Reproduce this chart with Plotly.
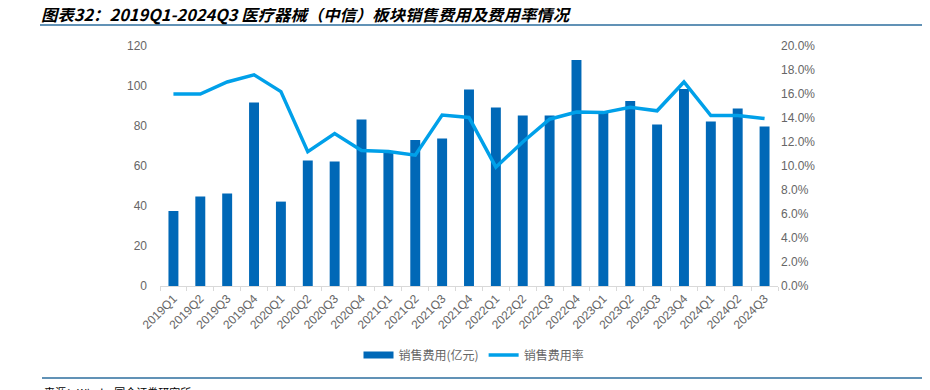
import plotly.graph_objects as go

categories = ["2019Q1","2019Q2","2019Q3","2019Q4","2020Q1","2020Q2","2020Q3","2020Q4",
              "2021Q1","2021Q2","2021Q3","2021Q4","2022Q1","2022Q2","2022Q3","2022Q4",
              "2023Q1","2023Q2","2023Q3","2023Q4","2024Q1","2024Q2","2024Q3"]
sales_expense = [37.5, 44.7, 46.3, 91.8, 42.2, 62.7, 62.2, 83.3,
                 66.5, 73.0, 73.7, 98.3, 89.3, 85.2, 85.2, 113.0,
                 87.5, 92.5, 80.8, 98.5, 82.2, 88.8, 79.7]
expense_rate = [16.0, 16.0, 17.0, 17.6, 16.2, 11.2, 12.7, 11.3,
                11.2, 10.9, 14.25, 14.05, 9.9, 12.0, 13.9, 14.5,
                14.45, 14.9, 14.6, 17.0, 14.2, 14.2, 13.95]
rate_frac = [v / 100 for v in expense_rate]

BAR = "#0068B7"
LINE = "#00A0E9"
GRAY = "#666666"
CJK = "Noto Sans CJK SC"
LAT = "Liberation Sans, Arial, " + CJK

fig = go.Figure()
fig.add_trace(go.Bar(x=categories, y=sales_expense, name="销售费用(亿元)",
                     marker=dict(color=BAR, line=dict(width=0)), width=0.37,
                     showlegend=False, yaxis="y"))
# legend proxy for bars (wide swatch)
fig.add_trace(go.Scatter(x=[None], y=[None], mode="lines", name="销售费用(亿元)",
                         line=dict(color=BAR, width=7), yaxis="y"))
fig.add_trace(go.Scatter(x=categories, y=rate_frac, mode="lines", name="销售费用率",
                         line=dict(color=LINE, width=3.5), yaxis="y2"))

# screen pixel -> paper coords (plot area on screen: x 160..778, y 46..286)
def px_y(p):
    return (286 - p) / 240

def px_x(p):
    return (p - 160) / 618

fig.update_layout(
    width=930, height=390,
    margin=dict(l=152, r=160, t=38, b=112),
    paper_bgcolor="white", plot_bgcolor="white",
    font=dict(family=LAT, size=12, color=GRAY),
    xaxis=dict(type="category", range=[-0.5, 22.5], tickangle=-45,
               showline=True, linecolor="#D9D9D9", linewidth=1,
               ticks="outside", tickson="boundaries", ticklen=4, tickcolor="#D9D9D9",
               showgrid=False, tickfont=dict(size=12, color=GRAY)),
    yaxis=dict(range=[0, 120], tickvals=[0, 20, 40, 60, 80, 100, 120],
               showgrid=False, zeroline=False, showline=False,
               ticklabelstandoff=12, tickfont=dict(size=12, color=GRAY)),
    yaxis2=dict(range=[0, 0.2], overlaying="y", side="right",
                tickvals=[i * 0.02 for i in range(11)], tickformat=".1%",
                showgrid=False, zeroline=False, showline=False,
                ticklabelstandoff=2, tickfont=dict(size=12, color=GRAY)),
    legend=dict(orientation="h", x=px_x(474), y=px_y(355), xanchor="center", yanchor="middle",
                font=dict(family=CJK, size=12, color=GRAY), itemwidth=30,
                bgcolor="rgba(0,0,0,0)"),
)

fig.add_annotation(text="<b><i>图表32：2019Q1-2024Q3 医疗器械（中信）板块销售费用及费用率情况</i></b>",
                   xref="paper", yref="paper", x=px_x(39), y=px_y(14),
                   xanchor="left", yanchor="middle", showarrow=False,
                   font=dict(family=CJK, size=16.4, color="#000000"))
fig.add_shape(type="line", xref="paper", yref="paper",
              x0=px_x(40), x1=px_x(940), y0=px_y(25), y1=px_y(25),
              line=dict(color="#2C6E9E", width=1.5))
fig.add_shape(type="line", xref="paper", yref="paper",
              x0=px_x(42), x1=px_x(940), y0=px_y(378), y1=px_y(378),
              line=dict(color="#2C6E9E", width=1.5))
fig.add_annotation(text="来源：Wind，国金证券研究所",
                   xref="paper", yref="paper", x=px_x(42), y=px_y(382),
                   xanchor="left", yanchor="top", showarrow=False,
                   font=dict(family=CJK, size=11, color="#000000"))

fig.write_html("out.html")
